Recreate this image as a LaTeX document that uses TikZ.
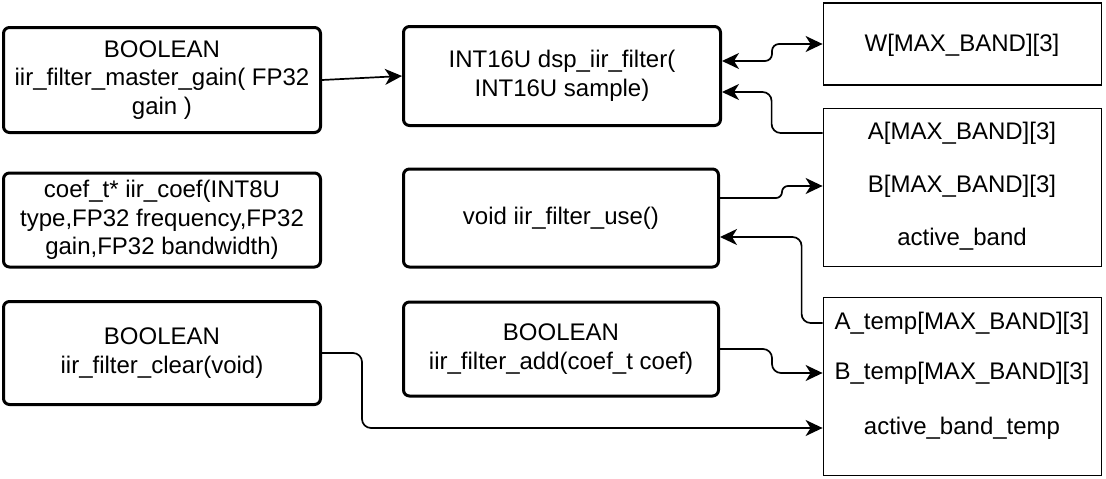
\documentclass[tikz,border=0pt]{standalone}
\usepackage{fontspec}
\setmainfont{Liberation Sans}
\usetikzlibrary{arrows.meta, positioning}

\begin{document}
\begin{tikzpicture}[x=1pt, y=-1pt,
    fatTip/.tip={Stealth[length=17pt, width=16pt, inset=5pt]},
    fnBox/.style={draw, line width=3pt, rounded corners=6pt, align=center, inner sep=0pt, font=\fontsize{24pt}{28.5pt}\selectfont},
    varBox/.style={draw, line width=1.8pt, inner sep=0pt},
    varText/.style={font=\fontsize{24pt}{28.5pt}\selectfont, inner sep=0pt},
    link/.style={line width=1.7pt, rounded corners=9pt, -fatTip}]
\useasboundingbox (0,0) rectangle (1106,479);

\node[fnBox, minimum width=317pt, minimum height=105pt] (gainBox) at (162,80) {BOOLEAN\\iir\_filter\_master\_gain( FP32\\gain )};
\node[fnBox, minimum width=317pt, minimum height=94pt] (coefBox) at (162,220) {coef\_t* iir\_coef(INT8U\\type,FP32 frequency,FP32\\gain,FP32 bandwidth)};
\node[fnBox, minimum width=317pt, minimum height=103pt] (clearBox) at (162,353) {BOOLEAN\\iir\_filter\_clear(void)};

\node[fnBox, minimum width=317pt, minimum height=99pt] (filterBox) at (562,76) {INT16U dsp\_iir\_filter(\\INT16U sample)};
\node[fnBox, minimum width=315pt, minimum height=98pt] (useBox) at (561,218) {void iir\_filter\_use()};
\node[fnBox, minimum width=315pt, minimum height=94pt] (addBox) at (561,349) {BOOLEAN\\iir\_filter\_add(coef\_t coef)};

\node[varBox, minimum width=278pt, minimum height=82pt] (wBox) at (962.5,44) {};
\node[varBox, minimum width=278pt, minimum height=158pt] (abBox) at (962.5,187.5) {};
\node[varBox, minimum width=278pt, minimum height=178pt] (tempBox) at (962.5,386.5) {};

\node[varText] (wText) at (962,45) {W[MAX\_BAND][3]};
\node[varText] (aText) at (962,133) {A[MAX\_BAND][3]};
\node[varText] (bText) at (962,186) {B[MAX\_BAND][3]};
\node[varText] (actText) at (962,239) {active\_band};
\node[varText] (aTempText) at (962,323) {A\_temp[MAX\_BAND][3]};
\node[varText] (bTempText) at (962,373) {B\_temp[MAX\_BAND][3]};
\node[varText] (actTempText) at (962,428) {active\_band\_temp};

\draw[link] (gainBox.east) -- (filterBox.west);
\draw[link, rounded corners=7pt, fatTip-fatTip] ([yshift=15pt]filterBox.east) -- ++(50,0) |- (wBox.west);
\draw[link] (abBox.west |- aText) -- ++(-51,0) |- ([yshift=-16pt]filterBox.east);
\draw[link, rounded corners=6pt] ([yshift=20pt]useBox.east) -- ++(62,0) |- (abBox.west |- bText);
\draw[link] (tempBox.west |- aTempText) -- ++(-21,0) |- ([yshift=-19pt]useBox.east);
\draw[link] (addBox.east) -- ++(52,0) |- (tempBox.west |- bTempText);
\draw[link] (clearBox.east) -- ++(40,0) |- (tempBox.west |- actTempText);

\end{tikzpicture}
\end{document}
